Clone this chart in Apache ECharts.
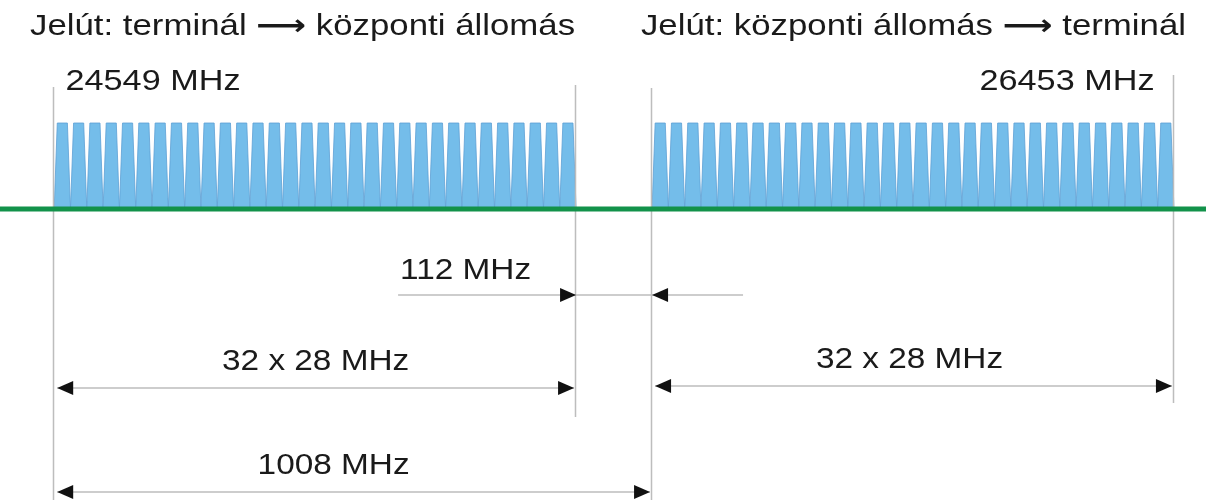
<!DOCTYPE html>
<html>
<head>
<meta charset="utf-8">
<title>Frekvenciaterv</title>
<script src="https://cdn.jsdelivr.net/npm/echarts@6/dist/echarts.min.js"></script>
<style>
  html, body { margin: 0; padding: 0; background: #fff; }
  #chart { width: 1206px; height: 500px; }
</style>
</head>
<body>
<div id="chart"></div>
<script>
// csatornák kezdőfrekvenciái (MHz)
const uplinkStarts = [
  24549, 24577, 24605, 24633, 24661, 24689, 24717, 24745,
  24773, 24801, 24829, 24857, 24885, 24913, 24941, 24969,
  24997, 25025, 25053, 25081, 25109, 25137, 25165, 25193,
  25221, 25249, 25277, 25305, 25333, 25361, 25389, 25417,
]
const downlinkStarts = [
  25557, 25585, 25613, 25641, 25669, 25697, 25725, 25753,
  25781, 25809, 25837, 25865, 25893, 25921, 25949, 25977,
  26005, 26033, 26061, 26089, 26117, 26145, 26173, 26201,
  26229, 26257, 26285, 26313, 26341, 26369, 26397, 26425,
]
const channelWidth = 28
const bandEdges = [24549, 25445, 25557, 26453]
const edgeLabels = ['24549 MHz', '', '', '26453 MHz']
const spanFrom = [25445, 24549, 25557, 24549]
const spanTo = [25557, 25445, 26453, 25557]
const spanLabels = ['112 MHz', '32 x 28 MHz', '32 x 28 MHz', '1008 MHz']
const titles = ['Jelút: terminál {a|⟶} központi állomás', 'Jelút: központi állomás {a|⟶} terminál']
const axisMin = 24456
const axisMax = 26508

// elrendezés (pixel)
const edgeTop = [87, 85, 88, 75]
const edgeBottom = [500, 417, 500, 403]
const spanRow = [295, 388, 386, 492]
const spanLabelDx = [0, 0, -4, -20]
const FONT = 'Liberation Sans'
const GREY = '#bdbdbd'
const INK = '#1a1a1a'

function text(x, y, str, align, size, sx) {
  return {
    type: 'text', x: x, y: y, scaleX: sx,
    style: {
      text: str, fontSize: size, fontFamily: FONT, fill: INK,
      align: align, textAlign: align,
      verticalAlign: 'middle', textVerticalAlign: 'middle',
      rich: { a: { fontSize: size, fontFamily: 'DejaVu Sans', fontWeight: 'bold', fill: INK } },
    },
  }
}
function head(tipX, y, dir) {
  // dir: 1 = jobbra mutat, -1 = balra
  return {
    type: 'polygon',
    shape: { points: [[tipX, y], [tipX - dir * 16, y - 7], [tipX - dir * 16, y + 7]] },
    style: { fill: '#111' },
  }
}

const chart = echarts.init(document.getElementById('chart'))

const options = {
  animation: false,
  grid: { left: 0, right: 0, top: 123, bottom: 291 },
  xAxis: {
    type: 'value',
    min: axisMin,
    max: axisMax,
    breaks: [{ start: 25445, end: 25557, gap: '6.3%' }],
    breakArea: { show: false },
    axisLine: { show: false },
    axisTick: { show: false },
    axisLabel: { show: false },
    splitLine: { show: false },
  },
  yAxis: {
    type: 'value', min: 0, max: 1, show: false,
    splitLine: { show: false },
  },
  graphic: [
    text(30, 27, titles[0], 'left', 29, 1.2),
    text(1186, 27, titles[1], 'right', 29, 1.2),
  ],
  series: [
    {
      name: 'csatornák',
      type: 'custom',
      silent: true,
      data: uplinkStarts.concat(downlinkStarts).map(s => [s, s + channelWidth]),
      encode: { x: [0, 1] },
      renderItem(params, api) {
        const a = api.coord([api.value(0), 0])
        const b = api.coord([api.value(1), 1])
        const inset = (b[0] - a[0]) * 0.19
        return {
          type: 'polygon',
          shape: { points: [[a[0], a[1]], [a[0] + inset, b[1]], [b[0] - inset, b[1]], [b[0], a[1]]] },
          style: { fill: '#74bdea', stroke: '#5d9fd4', lineWidth: 0.8 },
        }
      },
    },
    {
      name: 'alapvonal',
      type: 'custom',
      silent: true,
      z: 10,
      data: [[axisMin, axisMax]],
      encode: { x: [0, 1] },
      renderItem(params, api) {
        const a = api.coord([api.value(0), 0])
        const b = api.coord([api.value(1), 0])
        return {
          type: 'line',
          shape: { x1: a[0], y1: a[1], x2: b[0], y2: b[1] },
          style: { stroke: '#12924a', lineWidth: 5 },
        }
      },
    },
    {
      name: 'határok',
      type: 'custom',
      silent: true,
      data: bandEdges.map((f, i) => [f, i]),
      encode: { x: 0 },
      renderItem(params, api) {
        const i = api.value(1)
        const x = Math.round(api.coord([api.value(0), 0])[0]) - 0.5
        const children = [{
          type: 'line',
          shape: { x1: x, y1: edgeTop[i], x2: x, y2: edgeBottom[i] },
          style: { stroke: GREY, lineWidth: 1.5 },
        }]
        if (edgeLabels[i]) {
          const left = i === 0
          children.push(text(left ? x + 12 : x - 19, 82, edgeLabels[i], left ? 'left' : 'right', 29, 1.18))
        }
        return { type: 'group', children: children }
      },
    },
    {
      name: 'méretek',
      type: 'custom',
      silent: true,
      data: spanFrom.map((f, i) => [f, spanTo[i], i]),
      encode: { x: [0, 1] },
      renderItem(params, api) {
        const i = api.value(2)
        const x1 = api.coord([api.value(0), 0])[0]
        const x2 = api.coord([api.value(1), 0])[0]
        const y = spanRow[i]
        if (i === 0) {
          // külső nyilak a résnél
          return {
            type: 'group',
            children: [
              { type: 'line', shape: { x1: x1 - 178, y1: y, x2: x2 + 91, y2: y }, style: { stroke: GREY, lineWidth: 1.5 } },
              head(x1, y, 1),
              head(x2, y, -1),
              text(x1 - 176, y - 24, spanLabels[i], 'left', 29, 1.15),
            ],
          }
        }
        const a = x1 + 3
        const b = x2 - 2
        return {
          type: 'group',
          children: [
            { type: 'line', shape: { x1: a, y1: y, x2: b, y2: y }, style: { stroke: GREY, lineWidth: 1.5 } },
            head(a, y, -1),
            head(b, y, 1),
            text((a + b) / 2 + spanLabelDx[i], y - 26, spanLabels[i], 'center', 29, 1.15),
          ],
        }
      },
    },
  ],
}

chart.setOption(options)
</script>
</body>
</html>
